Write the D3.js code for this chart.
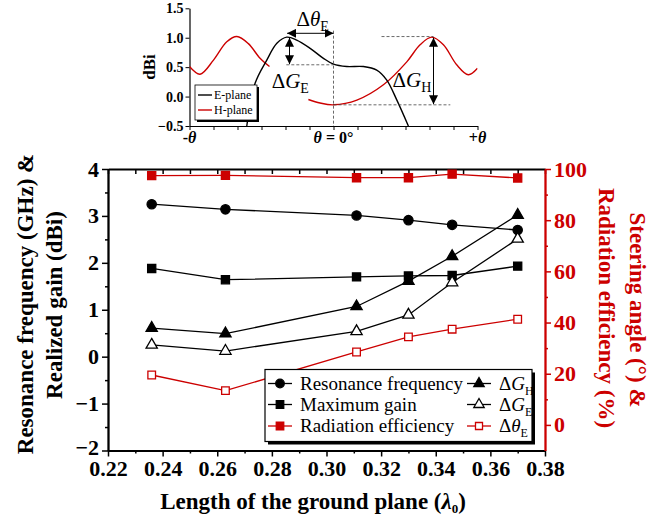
<!DOCTYPE html>
<html>
<head>
<meta charset="utf-8">
<script src="https://cdn.jsdelivr.net/npm/d3@7"></script>
<style>
  body { margin: 0; background: #fff; }
</style>
</head>
<body>
<svg id="chart" width="670" height="520" style="font-family:'Liberation Serif','Times New Roman',serif"></svg>
<script>
// ---- main chart data ----
const lengths = [0.236, 0.263, 0.311, 0.330, 0.346, 0.370];
const resonanceFreq = [3.25, 3.14, 3.01, 2.91, 2.81, 2.70];
const maxGain = [1.88, 1.64, 1.70, 1.72, 1.73, 1.93];
const radEff = [97.4, 97.5, 96.6, 96.6, 98.0, 96.5];
const deltaGH = [0.61, 0.49, 1.07, 1.61, 2.14, 3.02];
const deltaGE = [0.25, 0.12, 0.54, 0.89, 1.58, 2.51];
const deltaThetaE = [19.5, 13.4, 28.5, 34.4, 37.4, 41.3];
const xTicks = [0.22, 0.24, 0.26, 0.28, 0.30, 0.32, 0.34, 0.36, 0.38];
const xMinor = [0.23, 0.25, 0.27, 0.29, 0.31, 0.33, 0.35, 0.37];
const yLeftTicks = [-2, -1, 0, 1, 2, 3, 4];
const yLeftMinor = [-1.5, -0.5, 0.5, 1.5, 2.5, 3.5];
const yRightTicks = [0, 20, 40, 60, 80, 100];
const yRightMinor = [10, 30, 50, 70, 90];

// ---- inset data (radiation pattern sketch) ----
const ePlane = [[-54.2, -0.5], [-49, 0.225], [-41.7, 0.62], [-35.4, 0.905], [-29.2, 1.01], [-23, 0.96],
  [-14.6, 0.82], [-6.3, 0.65], [0, 0.55], [8.3, 0.51], [18.7, 0.51], [27, 0.45], [33.3, 0.28],
  [39.6, -0.06], [46.8, -0.5]];
const hPlaneLeft = [[-90, 0.51], [-83.4, 0.38], [-75, 0.62], [-66.7, 0.93], [-60.4, 1.02],
  [-53.2, 0.9], [-45.9, 0.65], [-40, 0.51]];
const hPlaneRight = [[-15.7, -0.05], [-8.4, -0.11], [0, -0.14], [14.6, -0.06], [31.2, 0.2],
  [45.8, 0.59], [54.1, 0.88], [61.4, 1.01], [68.7, 0.88], [77, 0.54], [84.3, 0.37], [90, 0.48]];
const insetYTicks = [-0.5, 0, 0.5, 1.0, 1.5];
const insetXTicks = d3.range(-90, 91, 15);

const RED = '#cc0000';
const SERIF = '"Liberation Serif", "Times New Roman", serif';
const svg = d3.select('#chart');

// ================= main chart =================
const x = d3.scaleLinear().domain([0.22, 0.38]).range([108, 545]);
const yL = d3.scaleLinear().domain([-2, 4]).range([450.5, 169]);
const yR = d3.scaleLinear().domain([-10, 100]).range([450.5, 169]);

function styleAxis(g, color, width) {
  g.attr('font-family', null);
  g.select('.domain').attr('stroke', color).attr('stroke-width', width);
  g.selectAll('.tick line').attr('stroke', color).attr('stroke-width', 1.5);
  g.selectAll('.tick text').attr('fill', color).style('font-family', SERIF)
    .style('font-weight', 'bold').style('font-size', '22px');
}

// top axis (inward ticks)
svg.append('g').attr('transform', `translate(0,${yL(4)})`)
  .call(d3.axisTop(x).tickValues(xTicks.concat(xMinor)).tickSize(-5).tickSizeOuter(0).tickFormat(''))
  .call(g => styleAxis(g, '#000', 1.8));
// bottom axis
svg.append('g').attr('transform', `translate(0,${yL(-2)})`)
  .call(d3.axisBottom(x).tickValues(xMinor).tickSize(3).tickSizeOuter(0).tickFormat(''))
  .call(g => styleAxis(g, '#000', 1.8));
svg.append('g').attr('transform', `translate(0,${yL(-2)})`)
  .call(d3.axisBottom(x).tickValues(xTicks).tickSize(6).tickSizeOuter(0).tickPadding(4).tickFormat(d3.format('.2f')))
  .call(g => styleAxis(g, '#000', 1.8));
// left axis
svg.append('g').attr('transform', `translate(${x(0.22)},0)`)
  .call(d3.axisLeft(yL).tickValues(yLeftMinor).tickSize(3).tickSizeOuter(0).tickFormat(''))
  .call(g => styleAxis(g, '#000', 1.8));
svg.append('g').attr('transform', `translate(${x(0.22)},0)`)
  .call(d3.axisLeft(yL).tickValues(yLeftTicks).tickSize(6).tickSizeOuter(0).tickPadding(3).tickFormat(d3.format('d')))
  .call(g => styleAxis(g, '#000', 1.8))
  .call(g => g.selectAll('.tick text').filter(d => d === -2).attr('dy', '0.2em'));
// right axis (red)
svg.append('g').attr('transform', `translate(${x(0.38)},0)`)
  .call(d3.axisRight(yR).tickValues(yRightMinor).tickSize(3).tickSizeOuter(0).tickFormat(''))
  .call(g => styleAxis(g, RED, 1.8));
svg.append('g').attr('transform', `translate(${x(0.38)},0)`)
  .call(d3.axisRight(yR).tickValues(yRightTicks).tickSize(6).tickSizeOuter(0).tickPadding(3).tickFormat(d3.format('d')))
  .call(g => styleAxis(g, RED, 1.8));

// series
const series = [
  { vals: resonanceFreq, y: yL, color: '#000', sym: d3.symbolCircle, size: 68, fill: true },
  { vals: maxGain, y: yL, color: '#000', sym: d3.symbolSquare, size: 66, fill: true },
  { vals: radEff, y: yR, color: RED, sym: d3.symbolSquare, size: 66, fill: true },
  { vals: deltaGH, y: yL, color: '#000', sym: d3.symbolTriangle, size: 55, fill: true },
  { vals: deltaGE, y: yL, color: '#000', sym: d3.symbolTriangle, size: 55, fill: false },
  { vals: deltaThetaE, y: yR, color: RED, sym: d3.symbolSquare, size: 58, fill: false }
];
series.forEach(s => {
  const pts = lengths.map((l, i) => [l, s.vals[i]]);
  const line = d3.line().x(d => x(d[0])).y(d => s.y(d[1]));
  svg.append('path').attr('d', line(pts)).attr('fill', 'none')
    .attr('stroke', s.color).attr('stroke-width', 1.3);
  svg.append('g').selectAll('path').data(pts).join('path')
    .attr('transform', d => `translate(${x(d[0])},${s.y(d[1])})`)
    .attr('d', d3.symbol(s.sym, s.size))
    .attr('fill', s.fill ? s.color : '#fff')
    .attr('stroke', s.color).attr('stroke-width', 1.3);
});

// legend
const leg = svg.append('g');
leg.append('rect').attr('x', 268).attr('y', 372.5).attr('width', 267).attr('height', 72).attr('fill', '#000');
leg.append('rect').attr('x', 265).attr('y', 369.5).attr('width', 267).attr('height', 72)
  .attr('fill', '#fff').attr('stroke', '#000').attr('stroke-width', 1.2);
function legendItem(s, lx, ly, labelFn) {
  leg.append('line').attr('x1', lx).attr('x2', lx + 24).attr('y1', ly).attr('y2', ly)
    .attr('stroke', s.color).attr('stroke-width', 1.3);
  leg.append('path').attr('transform', `translate(${lx + 12},${ly})`)
    .attr('d', d3.symbol(s.sym, s.size * 0.85))
    .attr('fill', s.fill ? s.color : '#fff').attr('stroke', s.color).attr('stroke-width', 1.3);
  const t = leg.append('text').attr('x', lx + 32).attr('y', ly + 6).style('font-family', SERIF).style('font-size', '19px');
  labelFn(t);
}
function deltaLabel(sym, sub) {
  return t => {
    t.append('tspan').text('Δ');
    t.append('tspan').style('font-style', 'italic').text(sym);
    t.append('tspan').style('font-size', '12px').attr('dy', 5).text(sub);
  };
}
legendItem(series[0], 268, 383.5, t => t.text('Resonance frequency'));
legendItem(series[1], 268, 404.5, t => t.text('Maximum gain'));
legendItem(series[2], 268, 426, t => t.text('Radiation efficiency'));
legendItem(series[3], 467, 383.5, deltaLabel('G', 'H'));
legendItem(series[4], 467, 404.5, deltaLabel('G', 'E'));
legendItem(series[5], 467, 426, deltaLabel('θ', 'E'));

// axis titles
function title(tx, ty, rot, color, txt) {
  return svg.append('text').attr('transform', `translate(${tx},${ty}) rotate(${rot})`).attr('dy', '0.35em')
    .attr('text-anchor', 'middle').attr('fill', color)
    .style('font-family', SERIF).style('font-size', '23px').style('font-weight', 'bold').text(txt);
}
const xt = title(313, 501, 0, '#000', null);
xt.append('tspan').text('Length of the ground plane (');
xt.append('tspan').style('font-style', 'italic').text('λ');
xt.append('tspan').style('font-size', '13px').attr('dy', 4).text('0');
xt.append('tspan').attr('dy', -4).text(')');
title(25, 304, -90, '#000', 'Resonance frequency (GHz) &');
title(54, 305, -90, '#000', 'Realized gain (dBi)');
title(638, 310, 90, RED, 'Steering angle (°) &');
title(607, 308, 90, RED, 'Radiation efficiency (%)');

// ================= inset =================
const xI = d3.scaleLinear().domain([-90, 90]).range([189.5, 477.5]);
const yI = d3.scaleLinear().domain([-0.5, 1.5]).range([126, 8.3]);

const defs = svg.append('defs');
defs.append('marker').attr('id', 'arrow').attr('viewBox', '0 0 10 10').attr('refX', 10).attr('refY', 5)
  .attr('markerWidth', 9).attr('markerHeight', 9).attr('markerUnits', 'userSpaceOnUse')
  .attr('orient', 'auto-start-reverse')
  .append('path').attr('d', 'M0,0 L10,5 L0,10 z').attr('fill', '#000');

svg.append('g').attr('transform', `translate(${xI(-90)},0)`)
  .call(d3.axisLeft(yI).tickValues(insetYTicks).tickSize(4).tickSizeOuter(0).tickPadding(2).tickFormat(d3.format('.1f')))
  .call(g => {
    g.attr('font-family', null);
    g.select('.domain').attr('stroke-width', 1.2);
    g.selectAll('.tick text').style('font-family', SERIF).style('font-weight', 'bold').style('font-size', '14px');
  });
svg.append('g').attr('transform', `translate(0,${yI(-0.5)})`)
  .call(d3.axisBottom(xI).tickValues(insetXTicks).tickSize(4).tickSizeOuter(0).tickFormat(''))
  .call(g => g.select('.domain').attr('stroke-width', 1.2));

function xLabel(xpos, parts) {
  const t = svg.append('text').attr('x', xI(xpos)).attr('y', 143).attr('text-anchor', 'middle')
    .style('font-family', SERIF).style('font-size', '16px').style('font-weight', 'bold');
  parts.forEach(p => t.append('tspan').style('font-style', p[1] ? 'italic' : 'normal').text(p[0]));
}
xLabel(-90, [['-', false], ['θ', true]]);
xLabel(0, [['θ', true], [' = 0°', false]]);
xLabel(90, [['+', false], ['θ', true]]);
svg.append('text').attr('transform', 'translate(149,67) rotate(-90)').attr('dy', '0.35em')
  .attr('text-anchor', 'middle').style('font-family', SERIF).style('font-size', '17px')
  .style('font-weight', 'bold').text('dBi');

const curve = d3.line().x(d => xI(d[0])).y(d => yI(d[1])).curve(d3.curveCatmullRom);
const clip = defs.append('clipPath').attr('id', 'insetClip');
clip.append('rect').attr('x', xI(-90)).attr('y', yI(1.5)).attr('width', xI(90) - xI(-90)).attr('height', yI(-0.5) - yI(1.5));
const ic = svg.append('g').attr('clip-path', 'url(#insetClip)');
ic.append('path').attr('d', curve(hPlaneLeft)).attr('fill', 'none').attr('stroke', RED).attr('stroke-width', 1.4);
ic.append('path').attr('d', curve(hPlaneRight)).attr('fill', 'none').attr('stroke', RED).attr('stroke-width', 1.4);
ic.append('path').attr('d', curve(ePlane)).attr('fill', 'none').attr('stroke', '#000').attr('stroke-width', 1.4);

// annotation guides
function dashed(x1, y1, x2, y2) {
  svg.append('line').attr('x1', xI(x1)).attr('y1', yI(y1)).attr('x2', xI(x2)).attr('y2', yI(y2))
    .attr('stroke', '#444').attr('stroke-width', 0.8).attr('stroke-dasharray', '3,2');
}
function arrow(x1, y1, x2, y2) {
  svg.append('line').attr('x1', xI(x1)).attr('y1', yI(y1)).attr('x2', xI(x2)).attr('y2', yI(y2))
    .attr('stroke', '#000').attr('stroke-width', 1)
    .attr('marker-start', 'url(#arrow)').attr('marker-end', 'url(#arrow)');
}
dashed(0, 1.12, 0, -0.5);
dashed(-29.5, 0.54, 0, 0.54);
dashed(30, 1.02, 62.5, 1.02);
dashed(0, -0.14, 73, -0.14);
arrow(-29, 1.075, 0, 1.075);
arrow(-27.5, 1.0, -27.5, 0.55);
arrow(62.5, 1.0, 62.5, -0.13);

function annot(cx, by, sym, sub) {
  const t = svg.append('text').attr('x', cx).attr('y', by).attr('text-anchor', 'middle')
    .style('font-family', SERIF).style('font-size', '21px');
  t.append('tspan').text('Δ');
  t.append('tspan').style('font-style', 'italic').text(sym);
  t.append('tspan').style('font-size', '14px').attr('dy', 5).text(sub);
}
annot(xI(-13), 26, 'θ', 'E');
annot(xI(-27), 88, 'G', 'E');
annot(xI(49), 87, 'G', 'H');

// inset legend
const il = svg.append('g');
il.append('rect').attr('x', 197).attr('y', 87).attr('width', 62).attr('height', 35).attr('fill', '#000');
il.append('rect').attr('x', 195).attr('y', 85).attr('width', 62).attr('height', 35)
  .attr('fill', '#fff').attr('stroke', '#000').attr('stroke-width', 0.8);
[['E-plane', '#000', 95], ['H-plane', RED, 110]].forEach(d => {
  il.append('line').attr('x1', 198).attr('x2', 212).attr('y1', d[2]).attr('y2', d[2])
    .attr('stroke', d[1]).attr('stroke-width', 1.4);
  il.append('text').attr('x', 214).attr('y', d[2] + 4).style('font-family', SERIF)
    .style('font-size', '12px').text(d[0]);
});
</script>
</body>
</html>
